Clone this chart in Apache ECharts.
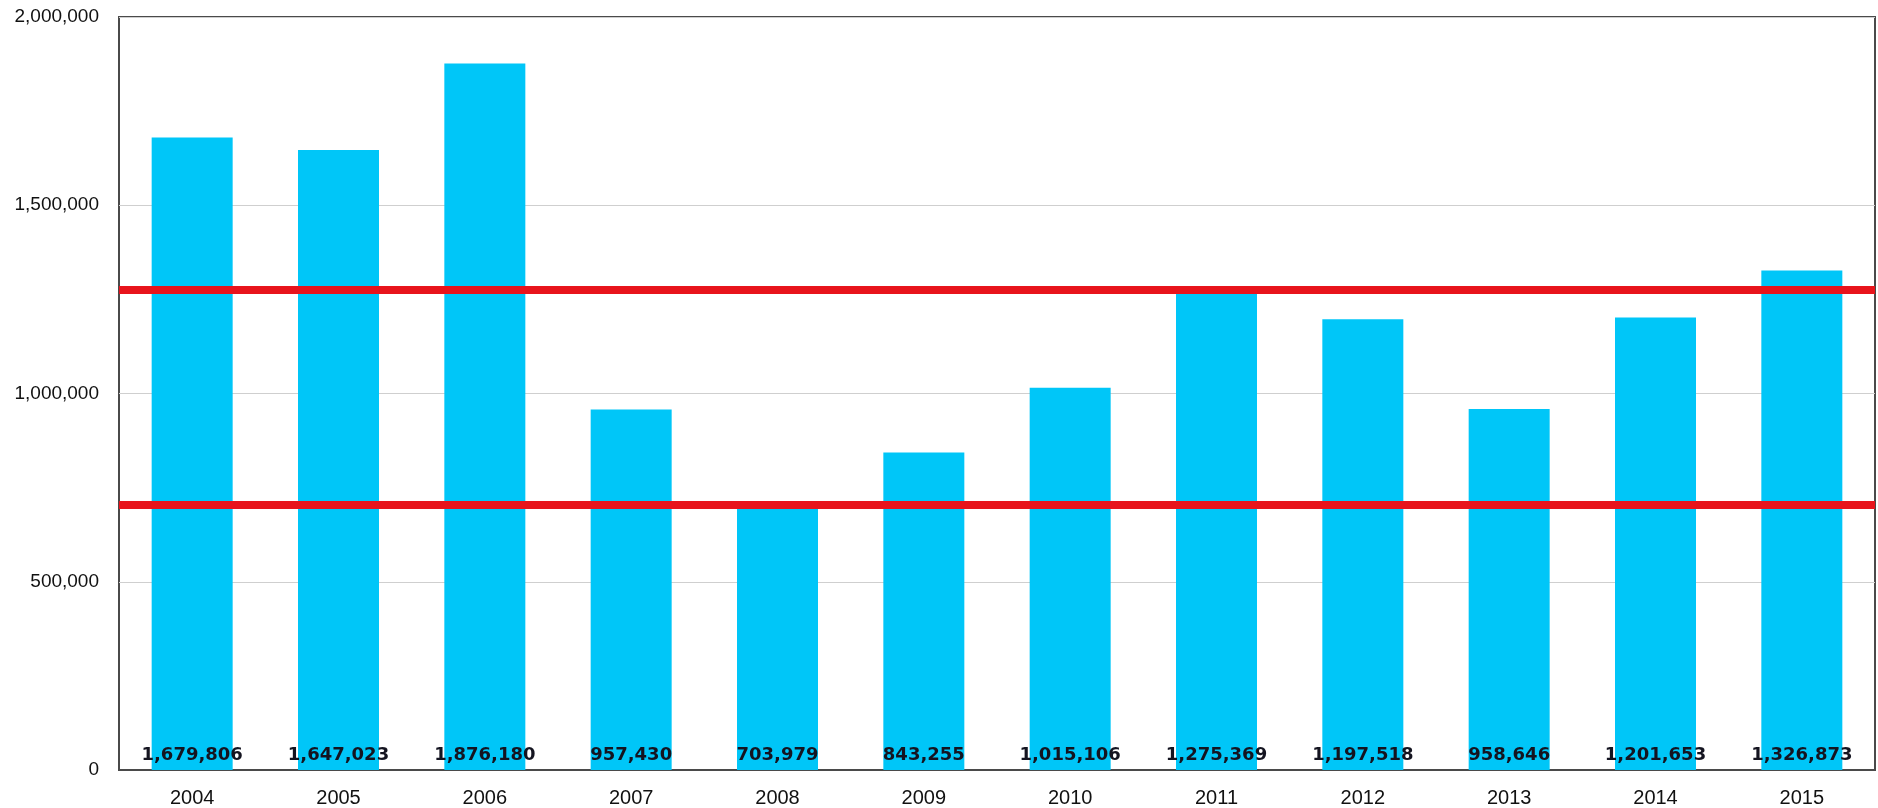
<!DOCTYPE html>
<html>
<head>
<meta charset="utf-8">
<script src="https://cdn.jsdelivr.net/npm/echarts@6/dist/echarts.min.js"></script>
<style>
html,body{margin:0;padding:0;background:#fff;}
#chart{width:1878px;height:808px;}
</style>
</head>
<body>
<div id="chart"></div>
<script>
const categories = ['2004','2005','2006','2007','2008','2009','2010','2011','2012','2013','2014','2015'];
const values = [1679806,1647023,1876180,957430,703979,843255,1015106,1275369,1197518,958646,1201653,1326873];
const referenceLines = [1275369, 703979];

function fmt(v){ return Number(v).toLocaleString('en-US'); }

const chart = echarts.init(document.getElementById('chart'), null, {renderer:'canvas'});
chart.setOption({
  animation:false,
  backgroundColor:'#ffffff',
  grid:{left:119,right:3,top:17,bottom:36,show:true,borderColor:'#4a4a4a',borderWidth:2,backgroundColor:'transparent'},
  xAxis:{
    type:'category',
    data:categories,
    axisLine:{show:true,lineStyle:{color:'#4a4a4a',width:2}},
    axisTick:{show:false},
    axisLabel:{color:'#111111',fontFamily:'Liberation Sans, Arial, sans-serif',fontSize:20,margin:18}
  },
  yAxis:{
    type:'value',
    min:0,max:2000000,interval:500000,
    axisLine:{show:false},
    axisTick:{show:false},
    splitLine:{show:true,lineStyle:{color:'#cfcfcf',width:1}},
    axisLabel:{color:'#111111',fontFamily:'Liberation Sans, Arial, sans-serif',fontSize:19,margin:20,
      formatter:function(v){return fmt(v);}}
  },
  series:[{
    type:'bar',
    data:values,
    barWidth:81,
    itemStyle:{color:'#00c6f8'},
    label:{show:true,position:'insideBottom',distance:6,color:'#141420',
      fontFamily:'DejaVu Sans, sans-serif',fontWeight:'bold',fontSize:18,
      formatter:function(p){return fmt(p.value);}},
    markLine:{
      silent:true,
      symbol:'none',
      label:{show:false},
      lineStyle:{color:'#e8141c',width:8,type:'solid'},
      data:referenceLines.map(function(v){return {yAxis:v};})
    }
  }]
});
</script>
</body>
</html>
